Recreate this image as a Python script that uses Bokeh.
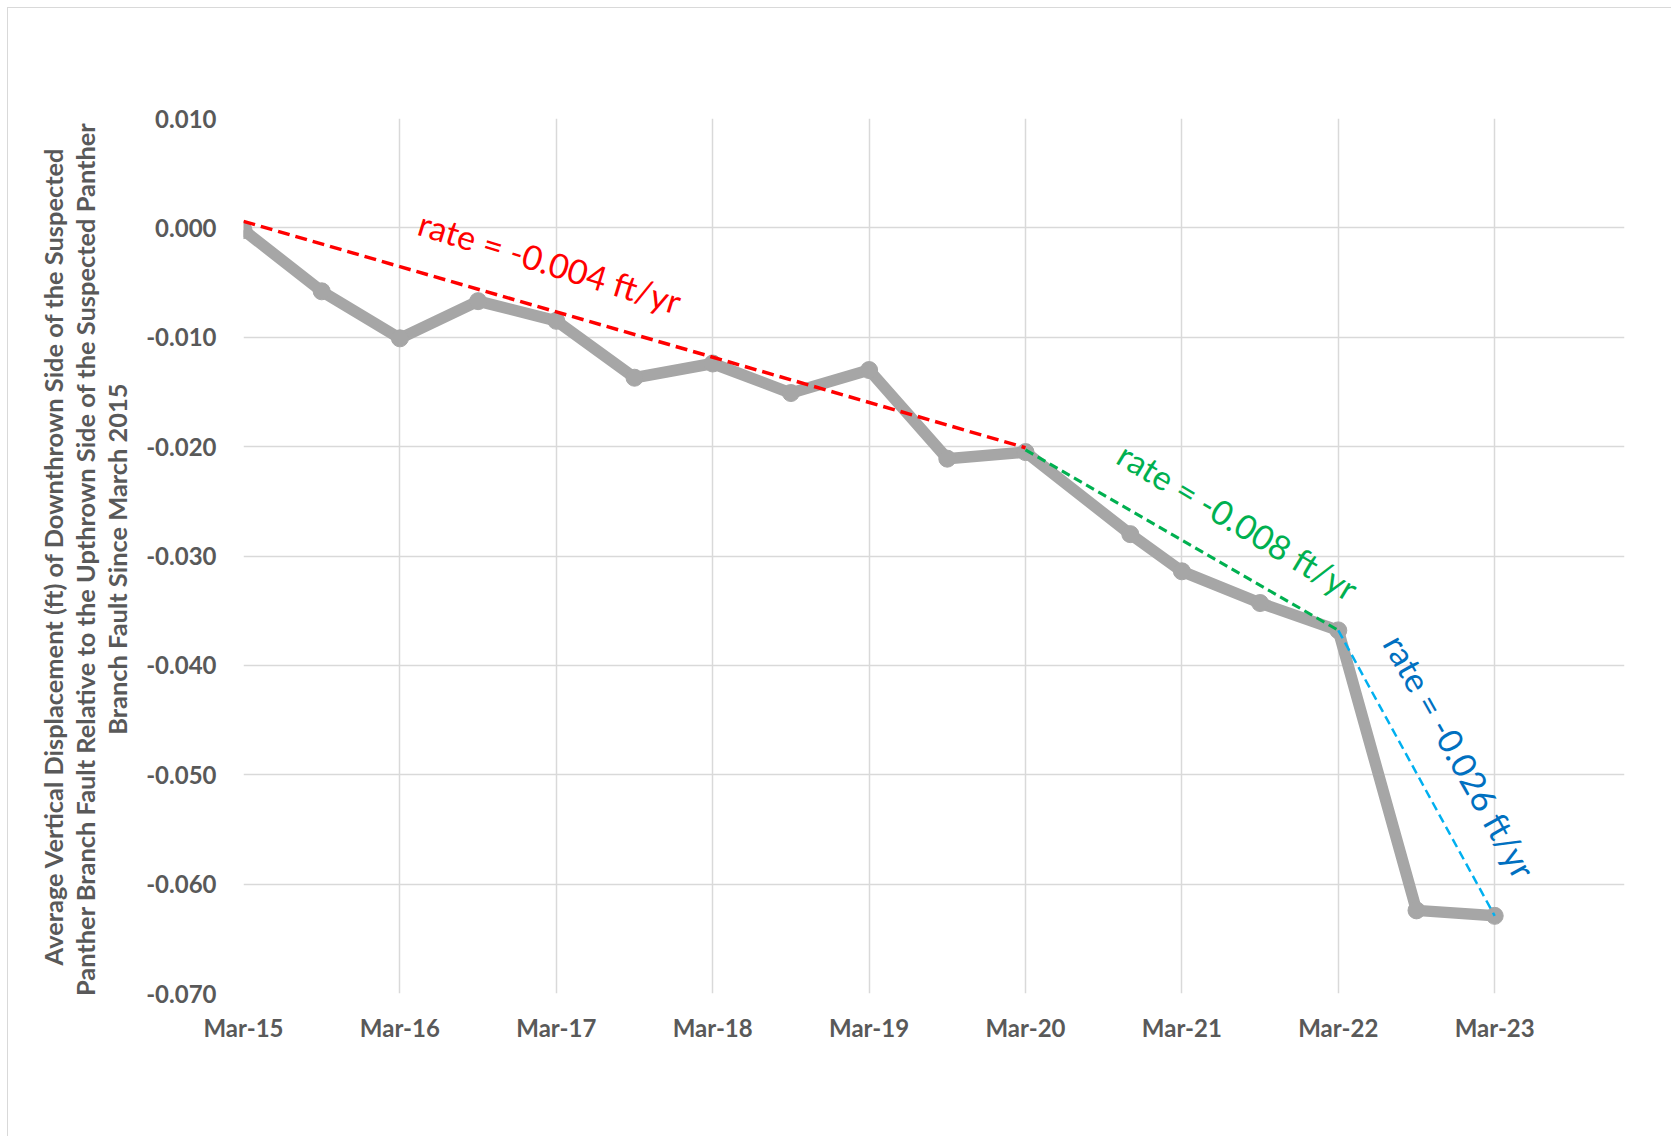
from bokeh.plotting import figure
from bokeh.models import FixedTicker, Range1d, ColumnDataSource
from bokeh.core.properties import value
from bokeh.embed import file_html
from bokeh.resources import INLINE

# ---- data (years since March 2015, displacement in ft) ----
years = [0.0, 0.5, 1.0, 1.5, 2.0, 2.5, 3.0, 3.5, 4.0, 4.5, 5.0, 5.67, 6.0, 6.5, 7.0, 7.5, 8.0]
disp = [-0.0002, -0.0058, -0.0101, -0.0067, -0.0085, -0.0137, -0.0124, -0.0151, -0.0130,
        -0.0211, -0.0205, -0.0280, -0.0314, -0.0343, -0.0368, -0.0624, -0.0629]

tick_years = [0, 1, 2, 3, 4, 5, 6, 7, 8]
tick_labels = ["Mar-15", "Mar-16", "Mar-17", "Mar-18", "Mar-19", "Mar-20", "Mar-21", "Mar-22", "Mar-23"]
y_ticks = [0.010, 0.000, -0.010, -0.020, -0.030, -0.040, -0.050, -0.060, -0.070]
y_labels = ["0.010", "0.000", "-0.010", "-0.020", "-0.030", "-0.040", "-0.050", "-0.060", "-0.070"]

trend1_x = [0.0, 5.0]
trend1_y = [0.0006, -0.0201]
trend2_x = [5.0, 7.0]
trend2_y = [-0.0203, -0.0368]
trend3_x = [7.0, 8.0]
trend3_y = [-0.0368, -0.0629]

rate_labels = ["rate = -0.004 ft/yr", "rate = -0.008 ft/yr", "rate = -0.026 ft/yr"]

y_title = ("Average Vertical Displacement (ft) of Downthrown Side of the Suspected\n"
           "Panther Branch Fault Relative to the Upthrown Side of the  Suspected Panther\n"
           "Branch Fault  Since March 2015")

GRAY_TXT = "#595959"
GRID = "#d9d9d9"

p = figure(width=1664, height=1129, output_backend="svg", toolbar_location=None,
           x_range=Range1d(0, 8.83), y_range=Range1d(-0.070, 0.010),
           min_border_left=235, min_border_top=110, min_border_right=48, min_border_bottom=144,
           styles={"margin-left": "7px", "margin-top": "7px",
                   "border-left": "1px solid #d9d9d9", "border-top": "1px solid #d9d9d9"})
p.outline_line_color = None
p.background_fill_color = "white"
p.border_fill_color = "white"

# axes
p.xaxis.ticker = FixedTicker(ticks=tick_years)
p.xaxis.major_label_overrides = {t: l for t, l in zip(tick_years, tick_labels)}
p.yaxis.ticker = FixedTicker(ticks=y_ticks)
p.yaxis.major_label_overrides = {t: l for t, l in zip(y_ticks, y_labels)}
for ax in (p.xaxis[0], p.yaxis[0]):
    ax.axis_line_color = None
    ax.major_tick_line_color = None
    ax.minor_tick_line_color = None
    ax.major_tick_out = 0
    ax.major_tick_in = 0
    ax.major_label_text_font = "Lato"
    ax.major_label_text_font_style = "bold"
    ax.major_label_text_font_size = "24px"
    ax.major_label_text_color = GRAY_TXT
p.yaxis.major_label_standoff = 27
p.xaxis.major_label_standoff = 19

p.yaxis.axis_label = y_title
p.yaxis.axis_label_text_font = "Lato"
p.yaxis.axis_label_text_font_style = "bold"
p.yaxis.axis_label_text_font_size = "25.4px"
p.yaxis.axis_label_text_color = GRAY_TXT
p.yaxis.axis_label_text_line_height = 1.07
p.yaxis.axis_label_standoff = 11

p.xgrid.ticker = FixedTicker(ticks=tick_years)
p.ygrid.ticker = FixedTicker(ticks=y_ticks)
p.xgrid.grid_line_color = GRID
p.ygrid.grid_line_color = GRID
p.xgrid.grid_line_width = 1.5
p.ygrid.grid_line_width = 1.5

# main series
src = ColumnDataSource(dict(x=years, y=disp))
p.line("x", "y", source=src, line_color="#a6a6a6", line_width=11.5, line_join="round")
p.scatter("x", "y", source=src, size=17, fill_color="#a6a6a6", line_color="#a6a6a6")

# trend lines
p.line(trend1_x, trend1_y, line_color="#ff0000", line_width=3.5, line_dash="12 6")
p.line(trend2_x, trend2_y, line_color="#00b050", line_width=3, line_dash="9 5")
p.line(trend3_x, trend3_y, line_color="#00b0f0", line_width=2.5, line_dash="9 5")

# rate annotations
lab_x = [1.96, 6.36, 7.78]
lab_y = [-0.0031, -0.0268, -0.0483]
lab_ang = [-0.30, -0.54, -1.06]
lab_col = ["#ff0000", "#00b050", "#0070c0"]
p.text(x=lab_x, y=lab_y, text=rate_labels, angle=lab_ang, text_color=lab_col,
       text_font=value("Lato"), text_font_size="34px",
       text_align="center", text_baseline="middle")

open("out.html", "w").write(file_html(p, INLINE))
